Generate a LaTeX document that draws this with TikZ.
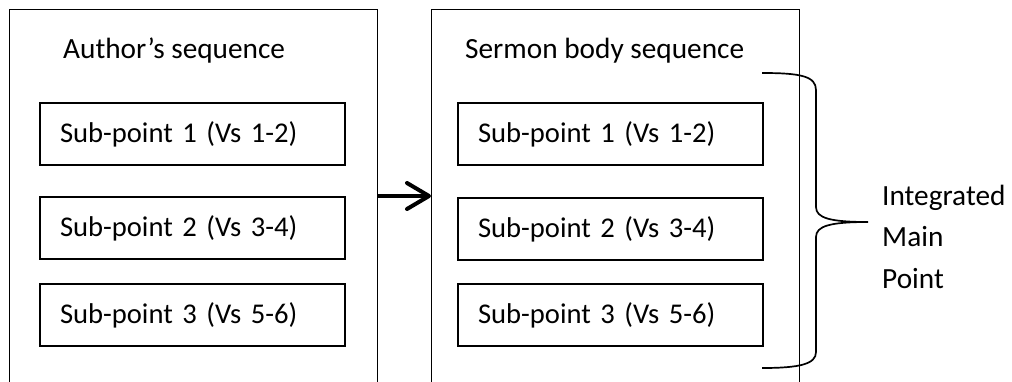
\documentclass[tikz,border=0pt]{standalone}
\usepackage{fontspec}
\setmainfont{Carlito}
\usetikzlibrary{arrows.meta}
\begin{document}
\begin{tikzpicture}[x=1pt,y=-1pt,
  txt/.style={font=\fontsize{29.3}{41.5}\selectfont},
  boxtxt/.style={font=\fontsize{28.6}{34}\selectfont},
  outerbox/.style={draw, line width=1.3pt, anchor=north west, minimum width=368pt, minimum height=420pt, inner sep=0pt},
  innerbox/.style={draw, line width=2pt, anchor=north west, minimum width=305pt, minimum height=62pt, inner xsep=20pt, inner ysep=0pt, text width=265pt, align=left, boxtxt},
  title/.style={anchor=base west, inner sep=0pt, txt},
  bigarrow/.style={line width=4pt, -{Straight Barb[length=22pt, width=26pt, line cap=round, line join=round]}},
  bracestyle/.style={line width=1.7pt}]
\useasboundingbox (0,0) rectangle (1012,381);
\clip (0,0) rectangle (1012,381);
% outer containers
\node[outerbox] (L) at (9,9) {};
\node[outerbox] (R) at (431,9) {};
% titles
\node[title] (lt) at (63,58) {Author’s sequence};
\node[title] (rt) at (465,58) {Sermon body sequence};
% left boxes
\node[innerbox] (l1) at (39,102) {Sub-point 1 (Vs 1-2)};
\node[innerbox] (l2) at (39,196) {Sub-point 2 (Vs 3-4)};
\node[innerbox] (l3) at (39,283) {Sub-point 3 (Vs 5-6)};
% right boxes
\node[innerbox] (r1) at (457,102) {Sub-point 1 (Vs 1-2)};
\node[innerbox] (r2) at (457,197) {Sub-point 2 (Vs 3-4)};
\node[innerbox] (r3) at (457,283) {Sub-point 3 (Vs 5-6)};
% arrow
\coordinate (m) at (0,196);
\draw[bigarrow] (L.east |- m) -- (R.west |- m);
% brace
\coordinate (bt) at (762,73);
\coordinate (bb) at (762,368);
\coordinate (tip) at (868,222);
\draw[bracestyle] (bt) .. controls (800,73) and (816,76) .. (816,90) -- (816,207)
  .. controls (816,218) and (830,222) .. (tip)
  .. controls (830,222) and (816,226) .. (816,237) -- (816,352)
  .. controls (816,364) and (800,368) .. (bb);
% label
\node[anchor=base west, inner sep=0pt, align=left, txt] (imp) at (882,288) {Integrated\\Main\\Point};
\end{tikzpicture}
\end{document}
